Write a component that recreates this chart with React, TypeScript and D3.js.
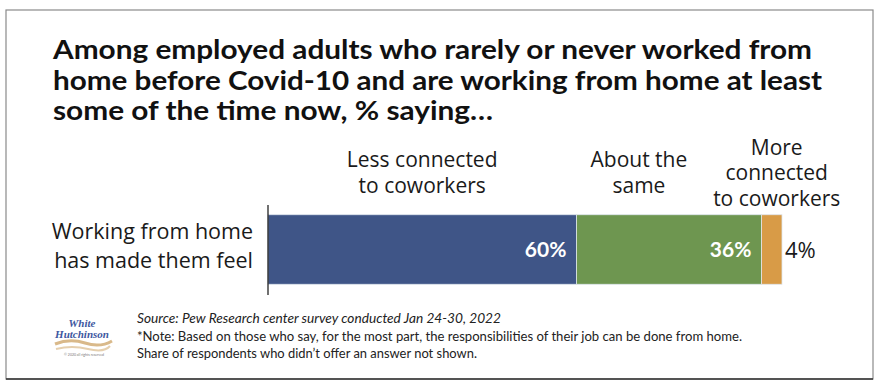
import * as React from "react";
import * as d3 from "d3";

const titleLines = [
  "Among employed adults who rarely or never worked from",
  "home before Covid-10 and are working from home at least",
  "some of the time now, % saying…",
];
const categories = ["Less connected to coworkers", "About the same", "More connected to coworkers"];
const headerLines = [["Less connected", "to coworkers"], ["About the", "same"], ["More", "connected", "to coworkers"]];
const values = [60, 36, 4];
const rowLabel = ["Working from home", "has made them feel"];
const footerLines = [
  "Source: Pew Research center survey conducted Jan 24-30, 2022",
  "*Note: Based on those who say, for the most part, the responsibilities of their job can be done from home.",
  "Share of respondents who didn’t offer an answer not shown.",
];

const colors = ["#3f5587", "#6e9650", "#d89b47"];
const W = 880;
const H = 388;
const font = "Lato, 'Open Sans', sans-serif";
const bodyFont = "'Open Sans', Lato, sans-serif";

export default function App() {
  const x = d3.scaleLinear().domain([0, d3.sum(values)]).range([268, 782]);
  const y = d3.scaleBand().domain(["row"]).range([205, 294]).paddingInner(0).paddingOuter(0.14);
  const stack = d3.stack<Record<string, number>>().keys(categories);
  const row: Record<string, number> = {};
  categories.forEach((c, i) => (row[c] = values[i]));
  const series = stack([row]);
  const by = y("row") ?? 0;
  const bh = y.bandwidth();
  const headerShift = [0, -30, 5];

  return (
    <svg width={W} height={H} style={{ position: "absolute", left: 0, top: 0, background: "#fff" }} fontFamily={font}>
      <rect x={6} y={10} width={867} height={369} fill="#fff" stroke="#8a8a8a" strokeWidth={1.2} />
      <line x1={6} x2={873} y1={379} y2={379} stroke="#333" strokeWidth={1.5} />

      {titleLines.map((t, i) => (
        <text key={i} x={53} y={59 + i * 30.5} fontSize={27} fontWeight={700} fill="#111"
          textLength={[759, 769, 440][i]} lengthAdjust="spacingAndGlyphs">
          {t}
        </text>
      ))}

      {series.map((s, i) => {
        const x0 = x(s[0][0]);
        const x1 = x(s[0][1]);
        const cx = (x0 + x1) / 2 + headerShift[i];
        const lines = headerLines[i];
        const start = 173 - ((lines.length - 1) * 25.5) / 2 + 7;
        return (
          <g key={s.key}>
            <rect x={x0} y={by} width={x1 - x0} height={bh} fill={colors[i]} stroke="#dfe6ee" strokeWidth={0.8} />
            {lines.map((l, j) => (
              <text key={j} x={cx} y={start + j * 25.5} textAnchor="middle" fontFamily={bodyFont} fontSize={21} fill="#1a1a1a">
                {l}
              </text>
            ))}
            {i < 2 ? (
              <text x={x1 - 10} y={by + bh / 2 + 7} textAnchor="end" fontSize={21} fontWeight={700} fill="#fff">
                {values[i]}%
              </text>
            ) : (
              <text x={x1 + 3} y={by + bh / 2 + 8} fontFamily={bodyFont} fontSize={22} fill="#1a1a1a">
                {values[i]}%
              </text>
            )}
          </g>
        );
      })}

      <line x1={x(0)} x2={x(0)} y1={205} y2={295} stroke="#111" strokeWidth={1.2} />

      {rowLabel.map((l, i) => (
        <text key={i} x={253} y={239 + i * 29} textAnchor="end" fontFamily={bodyFont} fontSize={21.5} fill="#1a1a1a">
          {l}
        </text>
      ))}

      {/* logo */}
      <g>
        <text x={82} y={327} textAnchor="middle" fontFamily="'Liberation Serif', serif" fontStyle="italic" fontWeight={700} fontSize={11} fill="#3d57a0">
          White
        </text>
        <text x={82} y={338} textAnchor="middle" fontFamily="'Liberation Serif', serif" fontStyle="italic" fontWeight={700} fontSize={11} fill="#3d57a0">
          Hutchinson
        </text>
        <path d="M55,344 Q70,338 85,343 T112,341" fill="none" stroke="#d9b98a" strokeWidth={3} />
        <path d="M56,349 Q72,345 88,349 T110,346" fill="none" stroke="#e5cfae" strokeWidth={2} />
        <text x={84} y={356} textAnchor="middle" fontSize={3.5} fill="#777">
          © 2020 all rights reserved
        </text>
      </g>

      {footerLines.map((l, i) => (
        <text key={i} x={137} y={323 + i * 17.5} fontSize={13.5} fontStyle={i === 0 ? "italic" : "normal"} fill="#222"
          textLength={[364, 605, 340][i]} lengthAdjust="spacingAndGlyphs">
          {l}
        </text>
      ))}
    </svg>
  );
}
